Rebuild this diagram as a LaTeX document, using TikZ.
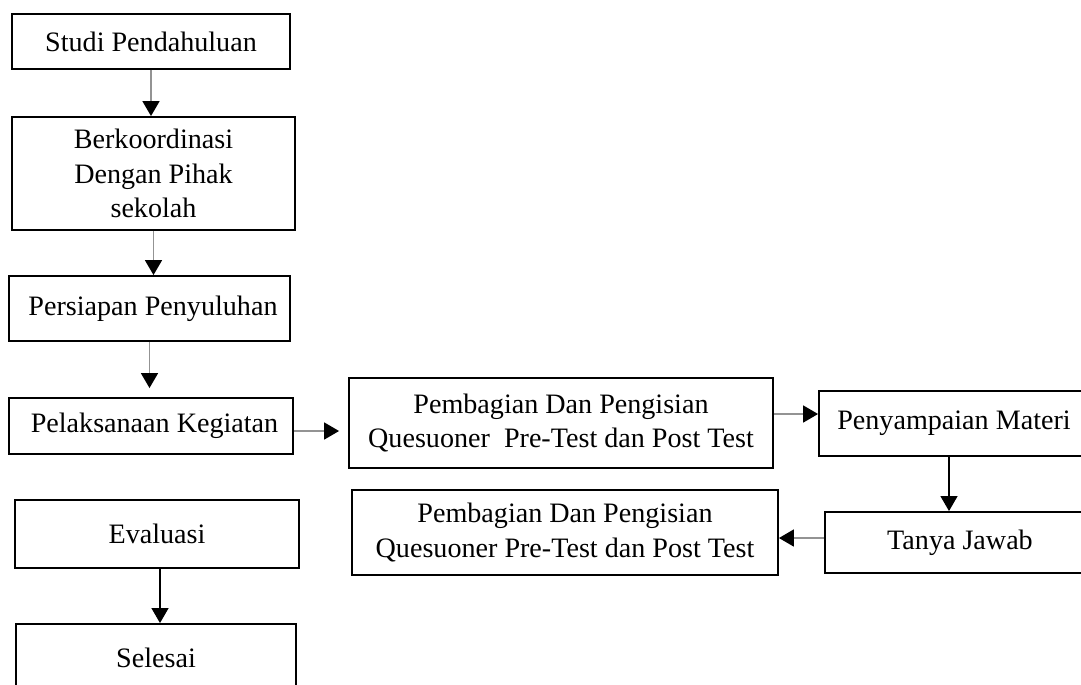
\documentclass[tikz,border=0pt]{standalone}
\usepackage{fontspec}
\setmainfont{Liberation Serif}
\usetikzlibrary{arrows.meta}
\begin{document}
\begin{tikzpicture}[x=0.02cm, y=-0.02cm,
    mybox/.style={draw, line width=1.1pt, align=center, inner sep=0pt, font=\fontsize{16}{19.5}\selectfont},
    myarrow/.style={draw=gray!85, line width=1pt, -{Triangle[length=0.3cm, width=0.34cm, color=black]}},
    mydark/.style={myarrow, draw=black, line width=0.7pt}]
    \useasboundingbox (0,0) rectangle (1081,684);
    % left column
    \node[mybox, minimum width=5.56cm, minimum height=1.10cm] (studi) at (151,41.5) {Studi Pendahuluan};
    \node[mybox, minimum width=5.66cm, minimum height=2.26cm] (koord) at (153.5,173.5) {Berkoordinasi\\Dengan Pihak\\sekolah};
    \node[mybox, minimum width=5.62cm, minimum height=1.30cm] (persiapan) at (149.5,308.5) {\ Persiapan Penyuluhan};
    \node[mybox, minimum width=5.68cm, minimum height=1.12cm] (pelaksanaan) at (151,426) {\ Pelaksanaan Kegiatan};
    \node[mybox, minimum width=5.68cm, minimum height=1.36cm] (evaluasi) at (157,534) {Evaluasi};
    \node[mybox, minimum width=5.60cm, minimum height=1.36cm] (selesai) at (156,658) {Selesai};
    % right part
    \node[mybox, minimum width=8.48cm, minimum height=1.80cm] (bagiA) at (561,423) {Pembagian Dan Pengisian\\Quesuoner\ \ Pre-Test dan Post Test};
    \node[mybox, minimum width=5.40cm, minimum height=1.30cm] (materi) at (954,423.5) {Penyampaian Materi};
    \node[mybox, minimum width=5.40cm, minimum height=1.22cm] (tanya) at (960,542.5) {Tanya Jawab};
    \node[mybox, minimum width=8.52cm, minimum height=1.70cm] (bagiB) at (565,532.5) {Pembagian Dan Pengisian\\Quesuoner Pre-Test dan Post Test};
    % arrows
    \draw[myarrow] (studi.south) -- (studi.south |- koord.north);
    \draw[myarrow] (koord.south) -- (koord.south |- persiapan.north);
    \draw[myarrow, shorten >=0.18cm] (persiapan.south) -- (persiapan.south |- pelaksanaan.north);
    \draw[myarrow, shorten >=0.18cm] ([yshift=-0.1cm]pelaksanaan.east) -- ([yshift=-0.1cm]pelaksanaan.east -| bagiA.west);
    \draw[myarrow] ([yshift=0.18cm]bagiA.east) -- ([yshift=0.18cm]bagiA.east -| materi.west);
    \draw[mydark] ([xshift=-0.1cm]materi.south) -- ([xshift=-0.1cm]materi.south |- tanya.north);
    \draw[myarrow] ([yshift=0.09cm]tanya.west) -- ([yshift=0.09cm]tanya.west -| bagiB.east);
    \draw[mydark] ([xshift=0.06cm]evaluasi.south) -- ([xshift=0.06cm]evaluasi.south |- selesai.north);
\end{tikzpicture}
\end{document}
